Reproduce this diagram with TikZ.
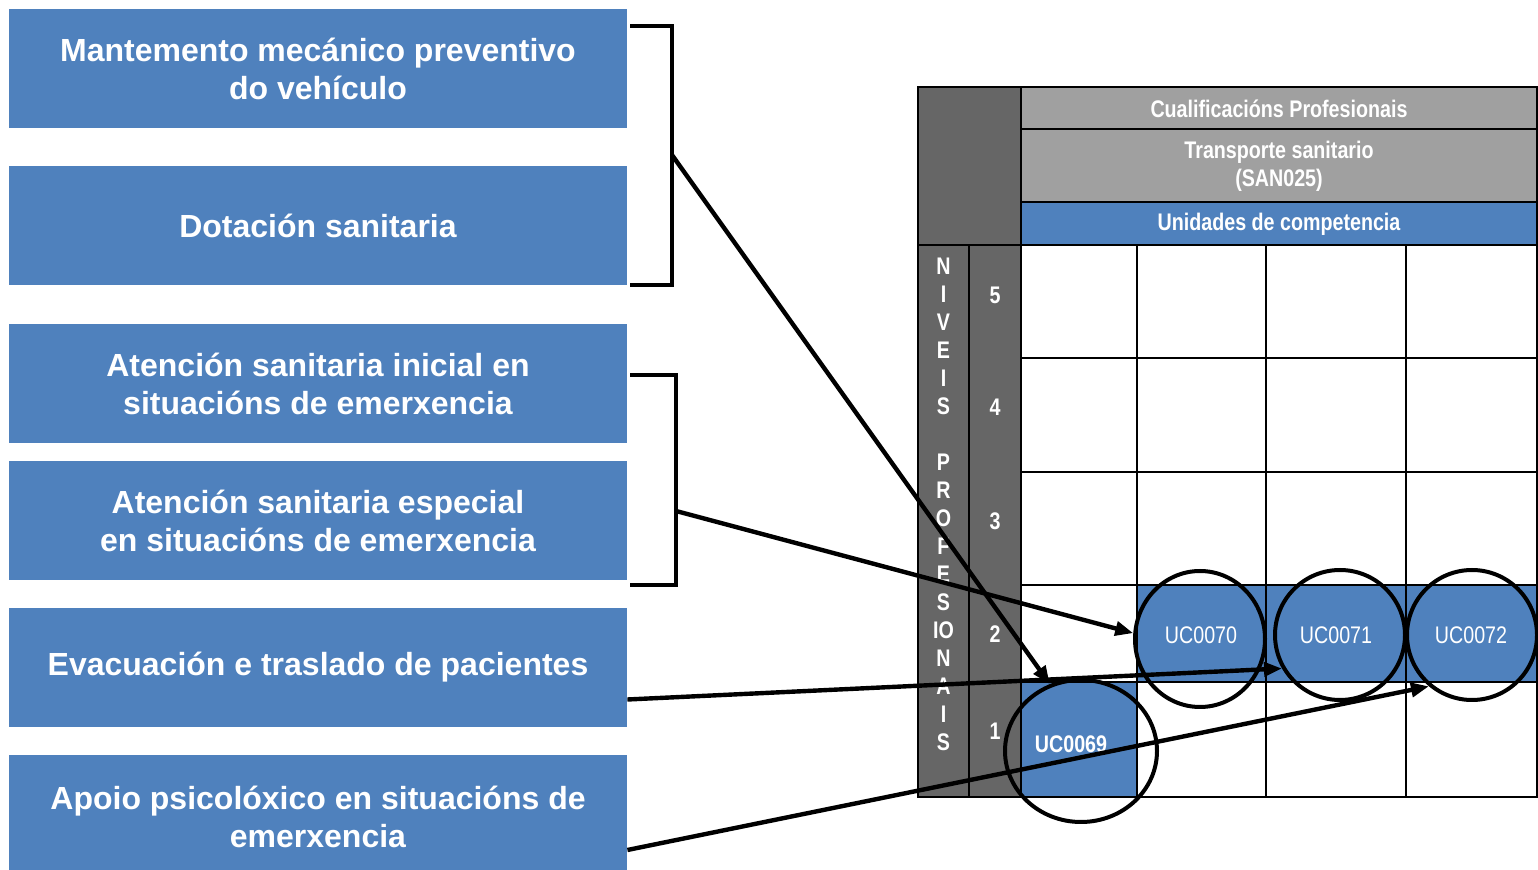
\documentclass[tikz,border=0pt]{standalone}
\usepackage{fontspec}
\setmainfont{Liberation Sans}
\newfontfamily\narrowfont[FakeStretch=0.82]{Liberation Sans}
\usetikzlibrary{arrows.meta,shapes.geometric}
\definecolor{ucblue}{HTML}{4F81BD}
\definecolor{hdrgray}{HTML}{A0A0A0}
\definecolor{niveisgray}{HTML}{666666}
\tikzset{
  modbox/.style={fill=ucblue, text=white, minimum width=309pt, minimum height=59.5pt,
    inner sep=0pt, align=center, font=\bfseries\fontsize{16}{19}\selectfont},
  hdr/.style={text=white, align=center, font=\narrowfont\bfseries\fontsize{12}{14}\selectfont},
  ucname/.style={text=white, font=\narrowfont\fontsize{12}{14}\selectfont},
  ring/.style={ellipse, draw, line width=2pt, inner sep=0pt},
  tabline/.style={line width=1pt},
  bracket/.style={line width=2pt},
  conn/.style={line width=2.2pt, -{Triangle[length=9pt,width=7pt]}}
}
\begin{document}
\begin{tikzpicture}[x=0.5pt,y=-0.5pt]
\useasboundingbox (0,0) rectangle (1538,870);

% modules
\node[modbox] (mant) at (318,68.5) {Mantemento mecánico preventivo\\do vehículo};
\node[modbox] (dota) at (318,225.5) {Dotación sanitaria};
\node[modbox] (inicial) at (318,383.5) {Atención sanitaria inicial en\\situacións de emerxencia};
\node[modbox] (especial) at (318,520.5) {Atención sanitaria especial\\en situacións de emerxencia};
\node[modbox] (evac) at (318,667.5) {Evacuación e traslado de pacientes};
\node[modbox, minimum height=62pt] (apoio) at (318,817) {Apoio psicolóxico en situacións de\\emerxencia};

% brackets
\draw[bracket] (630,26) -- (672,26) -- (672,285) -- (630,285);
\draw[bracket] (630,375) -- (676,375) -- (676,585) -- (630,585);
\coordinate (br1) at (672,155);
\coordinate (br2) at (676,511);

% table
\fill[niveisgray] (918,87) rectangle (1021,797);
\fill[hdrgray] (1021,87) rectangle (1537,202);
\fill[ucblue] (1021,202) rectangle (1537,245);
\fill[ucblue] (1137,585) rectangle (1537,682);
\fill[ucblue] (1021,682) rectangle (1137,797);
\draw[tabline] (918,87) rectangle (1537,797);
\draw[tabline] (1021,129) -- (1537,129) (1021,202) -- (1537,202) (918,245) -- (1537,245);
\draw[tabline] (1021,87) -- (1021,797) (969,245) -- (969,797);
\foreach \x in {1137,1266,1406}
  \draw[tabline] (\x,245) -- (\x,797);
\foreach \y in {358,472,585,682}
  \draw[tabline] (1021,\y) -- (1537,\y);

\node[hdr] (cualif) at (1279,109) {Cualificacións Profesionais};
\node[hdr] (transp) at (1279,166) {Transporte sanitario\\(SAN025)};
\node[hdr] (unid) at (1279,224) {Unidades de competencia};
\node[hdr] (niveis) at (943.5,504) {N\\I\\V\\E\\I\\S\\\strut\\P\\R\\O\\F\\E\\S\\IO\\N\\A\\I\\S};
\foreach \y/\n in {295/5,407/4,521/3,634/2,731/1}
  \node[hdr] (niv\n) at (995,\y) {\n};

% units of competence
\node[ucname] (txt70) at (1201,635) {UC0070};
\node[ucname] (txt71) at (1336,635) {UC0071};
\node[ucname] (txt72) at (1471,635) {UC0072};
\node[ucname, font=\narrowfont\bfseries\fontsize{12}{14}\selectfont] (txt69) at (1071,744) {UC0069};
\node[ring, minimum width=76pt, minimum height=71pt] (uc69) at (1081,751) {};
\node[ring, minimum width=65pt, minimum height=68pt] (uc70) at (1200,639) {};
\node[ring, minimum width=65pt, minimum height=65pt] (uc71) at (1340,635) {};
\node[ring, minimum width=65pt, minimum height=65pt] (uc72) at (1472,635) {};

% links
\draw[conn] (br1) -- (uc69.115);
\draw[conn] (br2) -- (uc70.175);
\draw[conn] ([yshift=-16pt]evac.east) -- (uc71.210);
\draw[conn] ([yshift=-16.5pt]apoio.east) -- (uc72.230);
\end{tikzpicture}
\end{document}
